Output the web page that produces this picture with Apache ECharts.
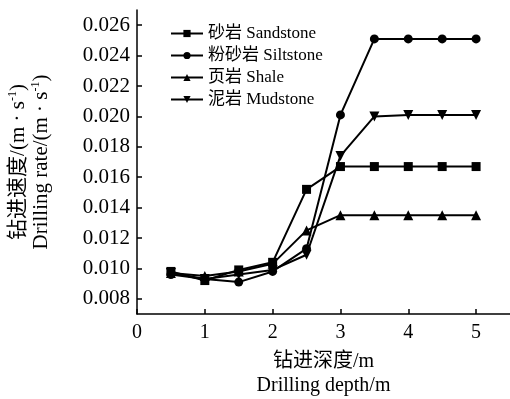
<!DOCTYPE html>
<html>
<head>
<meta charset="utf-8">
<script src="https://cdn.jsdelivr.net/npm/echarts@6/dist/echarts.min.js"></script>
<style>
html,body{margin:0;padding:0;background:#fff;}
#main{width:510px;height:399px;}
</style>
</head>
<body>
<div id="main"></div>
<script>
var depth = [0.5, 1, 1.5, 2, 2.5, 3, 3.5, 4, 4.5, 5];
var sandstone = [0.0098, 0.0092, 0.0099, 0.0104, 0.0152, 0.0167, 0.0167, 0.0167, 0.0167, 0.0167];
var siltstone = [0.0096, 0.0093, 0.0091, 0.0098, 0.0113, 0.0201, 0.0251, 0.0251, 0.0251, 0.0251];
var shale = [0.0097, 0.0095, 0.0098, 0.0103, 0.0125, 0.0135, 0.0135, 0.0135, 0.0135, 0.0135];
var mudstone = [0.0097, 0.0093, 0.0096, 0.0099, 0.0109, 0.0174, 0.0200, 0.0201, 0.0201, 0.0201];
var names = ['砂岩 Sandstone', '粉砂岩 Siltstone', '页岩 Shale', '泥岩 Mudstone'];
var xTicks = [0, 1, 2, 3, 4, 5];
var yTicks = [0.008, 0.010, 0.012, 0.014, 0.016, 0.018, 0.020, 0.022, 0.024, 0.026];

var font = '"Liberation Serif", "Noto Sans CJK SC", serif';

function pairs(arr) {
    return arr.map(function (v, i) { return [depth[i], v]; });
}

function makeSeries(name, data, symbol, size, rotate) {
    return {
        name: name,
        type: 'line',
        data: pairs(data),
        symbol: symbol,
        symbolSize: size,
        symbolRotate: rotate || 0,
        showAllSymbol: true,
        lineStyle: {color: '#000', width: 2},
        itemStyle: {color: '#000'},
        emphasis: {disabled: true},
        animation: false
    };
}

var chart = echarts.init(document.getElementById('main'));

var option = {
    backgroundColor: '#ffffff',
    grid: {left: 137, right: 0, top: 10, bottom: 85, outerBoundsMode: 'none', containLabel: false},
    legend: {
        orient: 'vertical',
        left: 165,
        top: 20,
        itemWidth: 32,
        itemHeight: 9,
        itemGap: 5,
        data: names,
        textStyle: {fontFamily: font, fontSize: 17, color: '#000'}
    },
    xAxis: {
        type: 'value',
        min: 0,
        max: 5.5,
        name: '{a|钻进深度/m}\n{a|Drilling depth/m}',
        nameLocation: 'middle',
        nameGap: 36,
        nameTextStyle: {
            rich: {a: {fontFamily: font, fontSize: 20, color: '#000', lineHeight: 24}}
        },
        axisLine: {lineStyle: {color: '#000', width: 1.5}},
        axisTick: {inside: true, length: 5, customValues: xTicks, lineStyle: {color: '#000', width: 1.5}},
        axisLabel: {customValues: xTicks, fontFamily: font, fontSize: 20, color: '#000', margin: 9},
        splitLine: {show: false}
    },
    yAxis: {
        type: 'value',
        min: 0.007,
        max: 0.027,
        name: '{a|钻进速度/(m · s}{s|-1}{a|)}\n{a|Drilling rate/(m · s}{s|-1}{a|)}',
        nameLocation: 'middle',
        nameRotate: 90,
        nameGap: 84,
        nameTextStyle: {
            rich: {
                a: {fontFamily: font, fontSize: 21, color: '#000', lineHeight: 23},
                s: {fontFamily: font, fontSize: 12, color: '#000', verticalAlign: 'top', lineHeight: 23, padding: [0, 0, 8, 0]}
            }
        },
        axisLine: {show: true, lineStyle: {color: '#000', width: 1.5}},
        axisTick: {show: true, inside: true, length: 5, customValues: yTicks, lineStyle: {color: '#000', width: 1.5}},
        axisLabel: {
            customValues: yTicks,
            fontFamily: font,
            fontSize: 21,
            color: '#000',
            margin: 7,
            formatter: function (v) { return v.toFixed(3); }
        },
        splitLine: {show: false}
    },
    series: [
        makeSeries(names[0], sandstone, 'rect', 9),
        makeSeries(names[1], siltstone, 'circle', 9),
        makeSeries(names[2], shale, 'triangle', 10),
        makeSeries(names[3], mudstone, 'triangle', 10, 180)
    ]
};

chart.setOption(option);
</script>
</body>
</html>
